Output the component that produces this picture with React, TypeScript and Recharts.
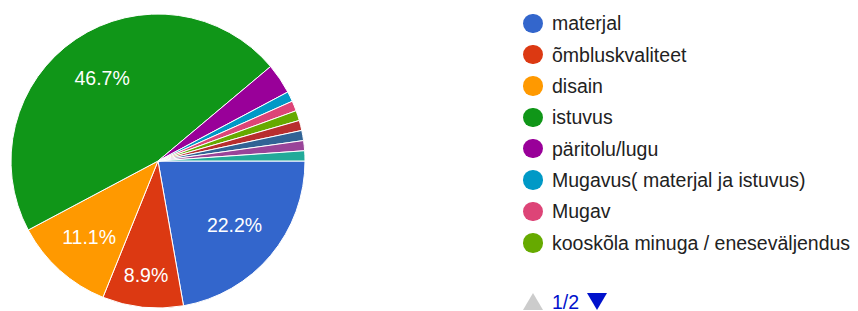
import React from "react";
import { PieChart, Pie, Cell, Legend } from "recharts";

const categories = [
  "materjal",
  "õmbluskvaliteet",
  "disain",
  "istuvus",
  "päritolu/lugu",
  "Mugavus( materjal ja istuvus)",
  "Mugav",
  "kooskõla minuga / eneseväljendus",
  "vastus 9",
  "vastus 10",
  "vastus 11",
  "vastus 12",
];
const responses = [20, 8, 10, 42, 3, 1, 1, 1, 1, 1, 1, 1];
const colors = [
  "#3366cc",
  "#dc3912",
  "#ff9900",
  "#109618",
  "#990099",
  "#0099c6",
  "#dd4477",
  "#66aa00",
  "#b82e2e",
  "#316395",
  "#994499",
  "#22aa99",
];
const pageLabel = "1/2";
const legendPageSize = 8;

const data = categories.map((name, i) => ({ name, value: responses[i], color: colors[i] }));

const RADIAN = Math.PI / 180;
const FONT = "Arial, 'Liberation Sans', sans-serif";

const renderLabel = (props: any) => {
  const { cx, cy, midAngle, percent, outerRadius } = props;
  if (percent < 0.05) return null;
  const sweep = percent * 360;
  const r = outerRadius * (sweep < 35 ? 0.78 : sweep < 45 ? 0.7 : 0.68);
  const x = cx + r * Math.cos(-midAngle * RADIAN);
  const y = cy + r * Math.sin(-midAngle * RADIAN);
  return (
    <text
      x={x}
      y={y}
      fill="#ffffff"
      textAnchor="middle"
      dominantBaseline="central"
      style={{ fontFamily: FONT, fontSize: 19.5 }}
    >
      {(percent * 100).toFixed(1) + "%"}
    </text>
  );
};

const LegendContent = () => {
  const items = data.slice(0, legendPageSize);
  const rowStart = 23.3;
  const rowStep = 31.35;
  return (
    <div style={{ position: "relative", width: 858, height: 311 }}>
      {items.map((entry, i) => {
        const cy = rowStart + i * rowStep;
        return (
          <div key={i}>
            <div
              style={{
                position: "absolute",
                left: 523,
                top: cy - 9.75,
                width: 19.5,
                height: 19.5,
                borderRadius: "50%",
                background: entry.color,
              }}
            />
            <div
              style={{
                position: "absolute",
                left: 552,
                top: cy - 12,
                height: 24,
                lineHeight: "24px",
                fontFamily: FONT,
                fontSize: 19.5,
                color: "#222222",
                whiteSpace: "nowrap",
              }}
            >
              {entry.name}
            </div>
          </div>
        );
      })}
      <svg style={{ position: "absolute", left: 0, top: 0 }} width={858} height={311}>
        <polygon points="523,310 543,310 533,293" fill="#cccccc" />
        <polygon points="587,293 607,293 597,310" fill="#0011cc" />
      </svg>
      <div
        style={{
          position: "absolute",
          left: 552,
          top: 301.5 - 12,
          height: 24,
          lineHeight: "24px",
          fontFamily: FONT,
          fontSize: 19.5,
          color: "#0011cc",
        }}
      >
        {pageLabel}
      </div>
    </div>
  );
};

export default function App() {
  return (
    <div style={{ position: "absolute", left: 0, top: 0, width: 858, height: 311, background: "#fff" }}>
      <PieChart width={858} height={311} margin={{ top: 0, right: 0, bottom: 0, left: 0 }}>
        <Pie
          data={data}
          dataKey="value"
          nameKey="name"
          cx={158}
          cy={161}
          outerRadius={147}
          startAngle={0}
          endAngle={-360}
          stroke="#ffffff"
          strokeWidth={1}
          label={renderLabel}
          labelLine={false}
          isAnimationActive={false}
        >
          {data.map((d, i) => (
            <Cell key={i} fill={d.color} />
          ))}
        </Pie>
        <Legend
          content={<LegendContent />}
          wrapperStyle={{ position: "absolute", left: 0, top: 0, width: 858, height: 311 }}
        />
      </PieChart>
    </div>
  );
}
